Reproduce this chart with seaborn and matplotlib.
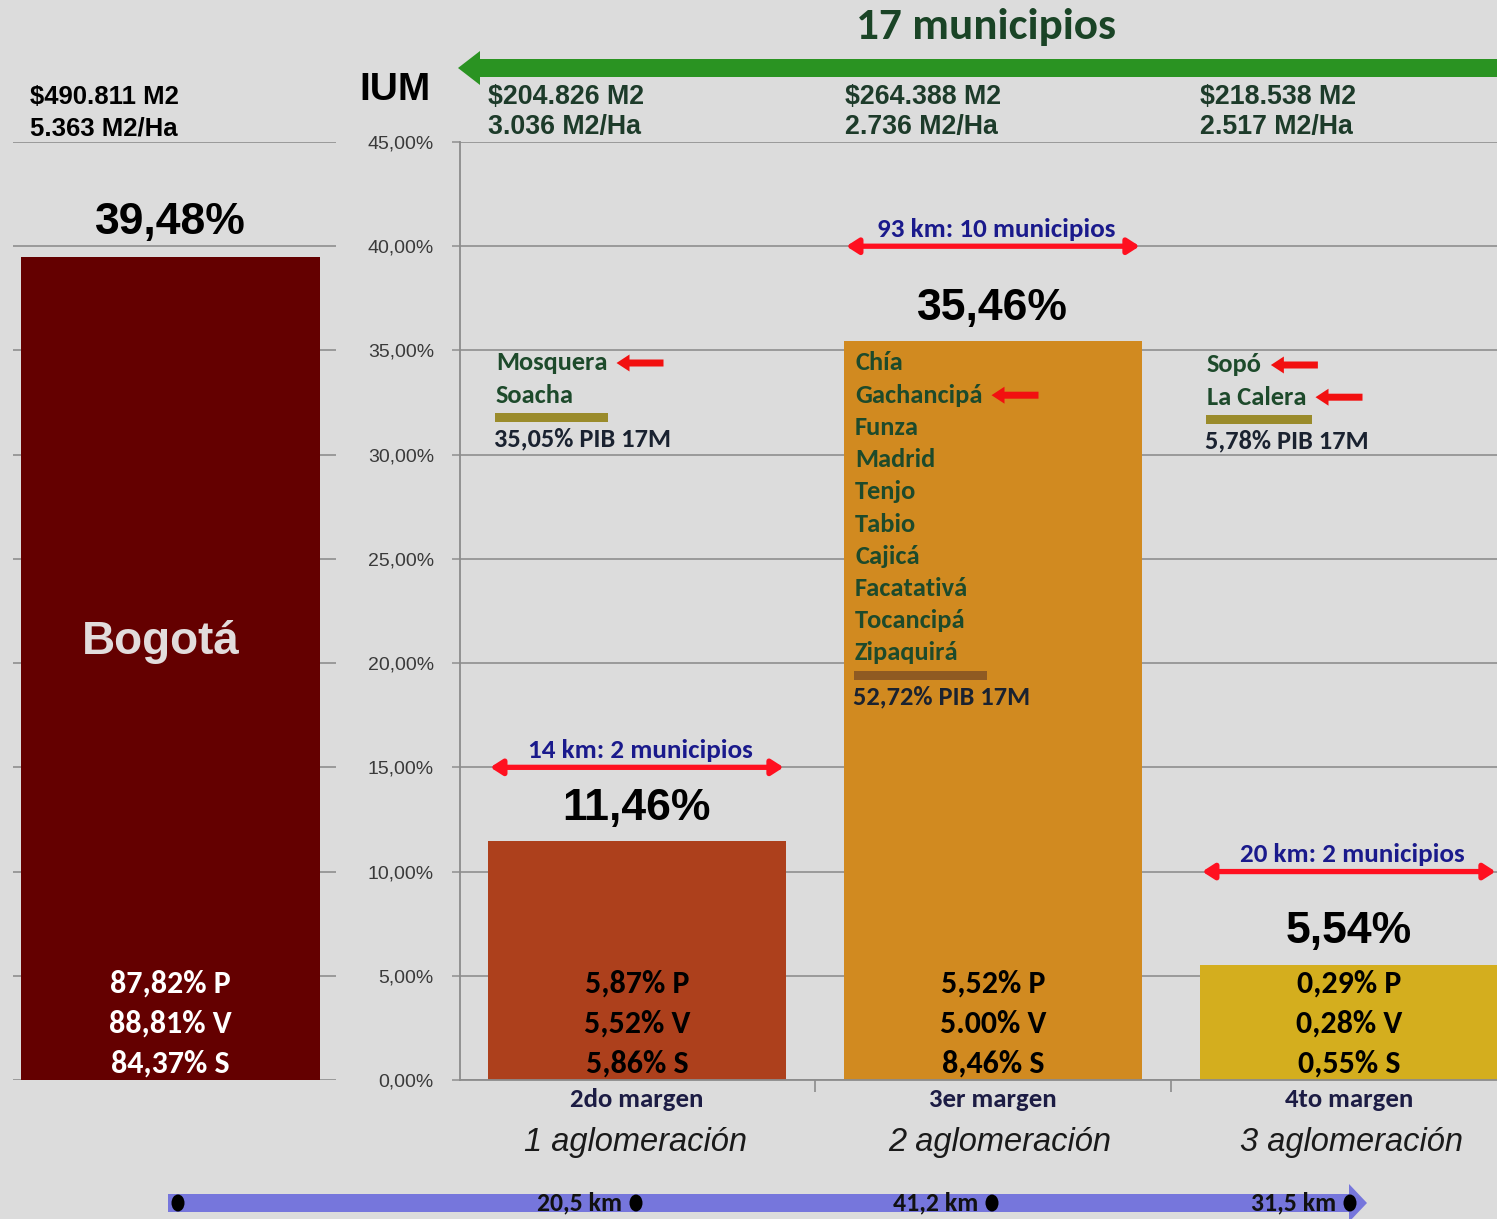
import numpy as np
import pandas as pd
import matplotlib
matplotlib.use("Agg")
import matplotlib.pyplot as plt
import seaborn as sns
from matplotlib import font_manager as fm
from matplotlib.patches import FancyArrow, Ellipse, Rectangle

# ------------------------------------------------------------------ data
categories = ["2do margen", "3er margen", "4to margen"]
ium = [11.46, 35.46, 5.54]
ium_labels = ["11,46%", "35,46%", "5,54%"]
bogota_name = "Bogotá"
bogota_ium = 39.48
bogota_ium_label = "39,48%"
bogota_pvs = ["87,82% P", "88,81% V", "84,37% S"]
pvs = [["5,87% P", "5,52% V", "5,86% S"],
       ["5,52% P", "5.00% V", "8,46% S"],
       ["0,29% P", "0,28% V", "0,55% S"]]
bogota_price = ["$490.811 M2", "5.363 M2/Ha"]
prices = [["$204.826 M2", "3.036 M2/Ha"],
          ["$264.388 M2", "2.736 M2/Ha"],
          ["$218.538 M2", "2.517 M2/Ha"]]
span_texts = ["14 km: 2 municipios", "93 km: 10 municipios", "20 km: 2 municipios"]
span_levels = [15, 40, 10]
municipios = [["Mosquera", "Soacha"],
              ["Chía", "Gachancipá", "Funza", "Madrid", "Tenjo", "Tabio",
               "Cajicá", "Facatativá", "Tocancipá", "Zipaquirá"],
              ["Sopó", "La Calera"]]
arrowed = ["Mosquera", "Gachancipá", "Sopó", "La Calera"]
pib = ["35,05% PIB 17M", "52,72% PIB 17M", "5,78% PIB 17M"]
aglomeracion = ["1 aglomeración", "2 aglomeración", "3 aglomeración"]
km_labels = ["20,5 km", "41,2 km", "31,5 km"]
title_top = "17 municipios"
yaxis_title = "IUM"
yticks = [0, 5, 10, 15, 20, 25, 30, 35, 40, 45]
ytick_labels = ["0,00%", "5,00%", "10,00%", "15,00%", "20,00%",
                "25,00%", "30,00%", "35,00%", "40,00%", "45,00%"]

# ------------------------------------------------------------------ style
avail = {f.name for f in fm.fontManager.ttflist}
if "Carlito" in avail:
    CAL, cf = "Carlito", 1.0
else:
    CAL, cf = "Lato", 0.9
ARIAL = "Liberation Sans"
plt.rcParams["font.family"] = [ARIAL, "DejaVu Sans"]

BG = "#dcdcdc"
GRID = "#9a9a9a"
bar_colors = ["#ad401c", "#d18a20", "#d4ae1e"]
bogota_color = "#640000"
DKGREEN = "#1d4a2b"
NAVY = "#1a1a8c"

W, H = 1497, 1219
fig = plt.figure(figsize=(W / 100, H / 100), dpi=100, facecolor=BG)


def rect(x0, y0, x1, y1):
    return [x0 / W, 1 - y1 / H, (x1 - x0) / W, (y1 - y0) / H]


# ------------------------------------------------------------------ left (Bogotá) panel
axL = fig.add_axes(rect(13, 142, 336, 1080))
axL.set_facecolor("none")
sns.barplot(x=[bogota_name], y=[bogota_ium], color=bogota_color, saturation=1,
            width=0.9, linewidth=0, ax=axL)
axL.set_yticks(yticks)
axL.set_xlim(-0.474, 0.498)
axL.set_ylim(0, 45)
axL.grid(axis="y", color=GRID, lw=1.4)
axL.grid(axis="x", visible=False)
axL.set_axisbelow(True)
axL.tick_params(left=False, bottom=False, labelleft=False, labelbottom=False)
for s in axL.spines.values():
    s.set_visible(False)
axL.set_xlabel("")
axL.set_ylabel("")
axL.annotate(bogota_ium_label, (0, bogota_ium), xytext=(0, 25), textcoords="offset points",
             ha="center", va="center", fontsize=32, fontweight="bold", color="black")
axL.text(-0.03, 21.0, bogota_name, ha="center", va="center", fontsize=33,
         fontweight="bold", color="#e2dcdc")
pvs_levels = [4.62, 2.7, 0.78]
for lab, yl in zip(bogota_pvs, pvs_levels):
    axL.text(0, yl, lab, ha="center", va="center", fontsize=23 * cf,
             fontweight="bold", family=CAL, color="white")

# ------------------------------------------------------------------ main panel
ax = fig.add_axes(rect(460, 142, 1497, 1080))
ax.set_facecolor("none")
df = pd.DataFrame({"cat": categories, "ium": ium})
sns.barplot(data=df, x="cat", y="ium", hue="cat", palette=bar_colors, saturation=1,
            width=0.837, linewidth=0, legend=False, ax=ax)
ax.set_yticks(yticks)
ax.set_yticklabels(ytick_labels)
ax.set_xticks([-0.5, 0.5, 1.5, 2.5])
ax.set_xticklabels([])
ax.set_xticks([0, 1, 2], minor=True)
ax.set_xticklabels(categories, minor=True, fontsize=19.3 * cf, fontweight="bold",
                   family=CAL, color="#1c1c44")
ax.set_xlim(-0.497, 2.416)
ax.set_ylim(0, 45)
ax.grid(axis="y", color=GRID, lw=1.4)
ax.grid(axis="x", visible=False)
ax.set_axisbelow(True)
ax.tick_params(axis="y", length=5.8, width=1.3, color=GRID, pad=13,
               labelsize=14, labelcolor="#3a3a3a")
ax.tick_params(axis="x", which="major", length=8.5, width=1.2, color="#8c8c8c")
ax.tick_params(axis="x", which="minor", length=0, pad=6)
for side in ["top", "right"]:
    ax.spines[side].set_visible(False)
for side in ["left", "bottom"]:
    ax.spines[side].set_color("#8c8c8c")
    ax.spines[side].set_linewidth(1.3)
ax.set_xlabel("")
ax.set_ylabel("")

for i, (v, lab) in enumerate(zip(ium, ium_labels)):
    ax.annotate(lab, (i, v), xytext=(0, 23.5), textcoords="offset points",
                ha="center", va="center", fontsize=32, fontweight="bold", color="black")
    for t, yl in zip(pvs[i], pvs_levels):
        ax.text(i, yl, t, ha="center", va="center", fontsize=23 * cf,
                fontweight="bold", family=CAL, color="black")
    # double red arrow spanning the bar
    ax.annotate("", xy=(i + 0.412, span_levels[i]), xytext=(i - 0.412, span_levels[i]),
                arrowprops=dict(arrowstyle="<|-|>,head_length=0.7,head_width=0.45",
                                mutation_scale=10, color="#ff1020", lw=3.8,
                                shrinkA=0, shrinkB=0), annotation_clip=False)
    ax.annotate(span_texts[i], (i + 0.01, span_levels[i]), xytext=(0, 12),
                textcoords="offset points", ha="center", va="center",
                fontsize=19.5 * cf, fontweight="bold", family=CAL, color=NAVY,
                annotation_clip=False)

# ------------------------------------------------------------------ overlay (pixel coords)
ov = fig.add_axes([0, 0, 1, 1])
ov.set_xlim(0, W)
ov.set_ylim(H, 0)
ov.axis("off")

# top green arrow + title
ov.add_patch(FancyArrow(1530, 68, -1072, 0, width=18, head_width=34, head_length=22,
                        length_includes_head=True, color="#2a9322", lw=0))
ov.text(986, 27, title_top, ha="center", va="center", fontsize=32.5 * cf,
        fontweight="bold", family=CAL, color="#1a4426")

# price lines
ov.text(30, 97, bogota_price[0], ha="left", va="center", fontsize=18.5, fontweight="bold", color="black")
ov.text(30, 128, bogota_price[1], ha="left", va="center", fontsize=18.5, fontweight="bold", color="black")
ov.text(395, 90, yaxis_title, ha="center", va="center", fontsize=28, fontweight="bold", color="black")
price_x = [488, 845, 1200]
for px, (p1, p2) in zip(price_x, prices):
    ov.text(px, 97, p1, ha="left", va="center", fontsize=19.3, fontweight="bold", color="#1d3b2a")
    ov.text(px, 127, p2, ha="left", va="center", fontsize=19.3, fontweight="bold", color="#1d3b2a")

# municipality lists
fig.canvas.draw()
rend = fig.canvas.get_renderer()
inv = ov.transData.inverted()
list_x = [496, 855, 1207]
list_y0 = [363, 363, 365]
step = 32.2
bar_w = [113, 133, 106]
bar_col = ["#9a8b2b", "#8f5a22", "#9a8b2b"]
for g, names in enumerate(municipios):
    y = list_y0[g]
    for k, name in enumerate(names):
        y = list_y0[g] + k * step
        t = ov.text(list_x[g], y, name, ha="left", va="center", fontsize=19 * cf,
                    fontweight="bold", family=CAL, color=DKGREEN)
        if name in arrowed:
            bb = t.get_window_extent(rend)
            xe = inv.transform((bb.x1, bb.y0))[0]
            ov.add_patch(FancyArrow(xe + 56, y, -47, 0, width=7, head_width=17,
                                    head_length=13, length_includes_head=True,
                                    color="#f21010", lw=0))
    ov.add_patch(Rectangle((list_x[g] - 1, y + 18), bar_w[g], 9, color=bar_col[g], lw=0))
    ov.text(list_x[g] - 2, y + 44, pib[g], ha="left", va="center", fontsize=19 * cf,
            fontweight="bold", family=CAL, color="#1a2230")

# aglomeración labels
agl_x = [636, 1000, 1352]
for x, t in zip(agl_x, aglomeracion):
    ov.text(x, 1142, t, ha="center", va="center", fontsize=23.5, style="italic", color="#1a1a1a")

# bottom blue arrow with km markers
ov.add_patch(FancyArrow(168, 1203, 1199, 0, width=18, head_width=38, head_length=18,
                        length_includes_head=True, color="#7676dc", lw=0))
dot_x = [178, 636, 992, 1350]
for x in dot_x:
    ov.add_patch(Ellipse((x, 1203), 13, 17, color="black", lw=0))
for x, t in zip(dot_x[1:], km_labels):
    ov.text(x - 14, 1203, t, ha="right", va="center", fontsize=18.5 * cf,
            fontweight="bold", family=CAL, color="#111111")

fig.savefig("out.png", dpi=100, facecolor=BG)
